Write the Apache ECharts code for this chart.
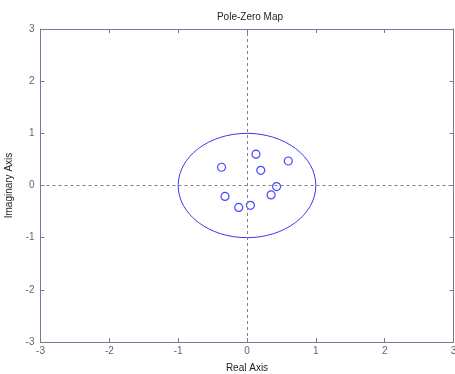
<!DOCTYPE html>
<html><head><meta charset="utf-8">
<script src="https://cdn.jsdelivr.net/npm/echarts@6/dist/echarts.min.js"></script>
<style>html,body{margin:0;padding:0;background:#fff}#c{width:455px;height:374px}</style>
</head><body><div id="c"></div>
<script>
const titleText = 'Pole-Zero Map';
const xName = 'Real Axis';
const yName = 'Imaginary Axis';
const axisTicks = [-3, -2, -1, 0, 1, 2, 3];
const zeroReal = [0.13, -0.37, 0.60, 0.20, 0.43, 0.35, -0.32, -0.12, 0.05];
const zeroImag = [0.60, 0.35, 0.47, 0.29, -0.02, -0.18, -0.21, -0.42, -0.38];
const unitCircle = [[0, 0, 1]]; // center x, center y, radius

const axisColor = '#77779a';
const labelColor = '#666';
const font = 'Liberation Sans, Arial, sans-serif';
const amin = axisTicks[0], amax = axisTicks[axisTicks.length - 1];

function mkX(pos, show) {
  return {type:'value', position:pos, min:amin, max:amax, interval:1,
    name: show ? xName : '', nameLocation:'middle', nameGap:21,
    nameTextStyle:{color:'#222', fontSize:10, fontFamily:font},
    axisLine:{show:true, onZero:false, lineStyle:{color:axisColor, width:1}},
    axisTick:{show:true, inside:true, length:4, lineStyle:{color:axisColor}},
    axisLabel:{show:show, color:labelColor, fontSize:10, fontFamily:font, margin:4},
    splitLine:{show:false}};
}
function mkY(pos, show) {
  return {type:'value', position:pos, min:amin, max:amax, interval:1,
    name: show ? yName : '', nameLocation:'middle', nameGap:20,
    nameTextStyle:{color:'#222', fontSize:10, fontFamily:font},
    axisLine:{show:true, onZero:false, lineStyle:{color:axisColor, width:1}},
    axisTick:{show:true, inside:true, length:4, lineStyle:{color:axisColor}},
    axisLabel:{show:show, color:labelColor, fontSize:10, fontFamily:font, margin:6},
    splitLine:{show:false}};
}

const chart = echarts.init(document.getElementById('c'), null, {renderer:'canvas'});
chart.setOption({
  animation:false,
  backgroundColor:'#fff',
  title:{text:titleText, left:245, textAlign:'center', top:7,
    textStyle:{fontSize:10, fontWeight:'normal', color:'#222', fontFamily:font}},
  grid:{left:40.5, right:1.5, top:29, bottom:32, containLabel:false, outerBoundsMode:'none'},
  xAxis:[mkX('bottom', true), mkX('top', false)],
  yAxis:[mkY('left', true), mkY('right', false)],
  series:[
    {type:'custom', xAxisIndex:0, yAxisIndex:0, data:unitCircle, silent:true, z:2,
      renderItem:function(params, api){
        const c = api.coord([api.value(0), api.value(1)]);
        const s = api.size([api.value(2), api.value(2)]);
        return {type:'ellipse', shape:{cx:c[0], cy:c[1], rx:s[0], ry:s[1]},
          style:{fill:null, stroke:'#3a3af0', lineWidth:1}};
      }},
    {type:'scatter', xAxisIndex:0, yAxisIndex:0, z:3,
      data:zeroReal.map((x,i)=>[x, zeroImag[i]]),
      symbol:'circle', symbolSize:8,
      itemStyle:{color:'rgba(0,0,0,0)', borderColor:'#1a1aff', borderWidth:1.2},
      markLine:{silent:true, symbol:['none','none'], label:{show:false},
        lineStyle:{color:'#808080', type:[3,3], width:1},
        data:[{xAxis:0},{yAxis:0}]}}
  ]
});
</script></body></html>
